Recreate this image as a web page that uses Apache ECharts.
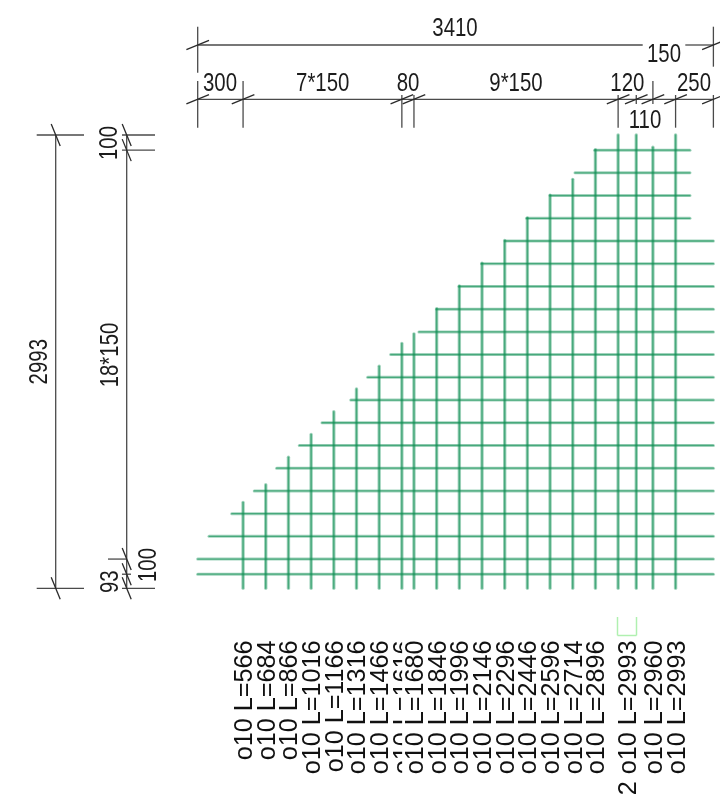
<!DOCTYPE html>
<html><head><meta charset="utf-8">
<style>html,body{margin:0;padding:0;background:#fff}#c{width:720px;height:810px}</style>
<script src="https://cdn.jsdelivr.net/npm/echarts@6/dist/echarts.min.js"></script>
</head><body><div id="c"></div>
<script>
// Dimension chains (mm)
const xChainSpans = [300, 1050, 80, 1350, 120, 110, 150, 250];
const xChainLabels = ['300', '7*150', '80', '9*150', '120', '110', '150', '250'];
const yChainSpans = [93, 100, 2700, 100];
const overallWidth = 3410;
const overallHeight = 2993;

// Vertical bars: x position (mm) and drawn length (mm)
const vBarX = [300,450,600,750,900,1050,1200,1350,1430,1580,1730,1880,2030,2180,2330,2480,2630,2780,2900,3010,3160];
const vBarLen = [566,684,866,1016,1166,1316,1466,1616,1680,1846,1996,2146,2296,2446,2596,2700,2896,2993,2993,2912,2993];

// Horizontal bars: y position (mm), left end and right end (mm)
const hBarY = [93,193,343,493,643,793,943,1093,1243,1393,1543,1693,1843,1993,2143,2293,2443,2593,2743,2893];
const hBarStart = [0,0,75,225,374,522,672,822,1012,1124,1276,1463,1580,1728,1877,2032,2175,2330,2495,2625];
const hBarEnd = [3410,3410,3410,3410,3410,3410,3410,3410,3410,3410,3410,3410,3410,3410,3410,3410,3255,3255,3255,3255];

// Bar schedule labels
const scheduleText = ['o10 L=566','o10 L=684','o10 L=866','o10 L=1016','o10 L=1166','o10 L=1316','o10 L=1466','o10 L=1616','o10 L=1680','o10 L=1846','o10 L=1996','o10 L=2146','o10 L=2296','o10 L=2446','o10 L=2596','o10 L=2714','o10 L=2896','2 o10 L=2993','o10 L=2960','o10 L=2993'];
const scheduleX = [300,450,600,750,900,1050,1200,1350,1430,1580,1730,1880,2030,2180,2330,2480,2630,2840,3010,3160];

// Page-to-model scale
const KX = 0.15123, KY = 0.15146, X0 = 197.7, Y0 = 588.3;
const mx = p => (p - X0) / KX;
const my = p => (Y0 - p) / KY;

const cum = a => { let s = 0; return a.map(v => (s += v)); };
const xStops = [0].concat(cum(xChainSpans));
const yStops = [0].concat(cum(yChainSpans));

const HALO = 'rgba(28,150,96,0.42)';
const CORE = 'rgba(14,142,82,0.6)';
const DIM = '#4a4a4a';
const SANS = '"Liberation Sans",Arial,sans-serif';

const hSeg = hBarY.map((y, i) => [hBarStart[i], y, hBarEnd[i], y]);
const vSeg = vBarX.map((x, i) => [x, 0, x, vBarLen[i]]);

// Dimension lines and extension lines
const yTop = my(45), yChain = my(99.3), xOuter = mx(55.7), xInner = mx(126.7);
const dimSeg = [
  [0, yTop, mx(642.7), yTop], [mx(685.3), yTop, overallWidth, yTop],
  [0, my(26.7), 0, my(72.7)], [overallWidth, my(26.7), overallWidth, my(66.7)],
  [0, yChain, overallWidth, yChain],
  [xOuter, 0, xOuter, overallHeight], [xInner, 0, xInner, overallHeight],
  [mx(36.7), 0, mx(84), 0], [mx(36.7), overallHeight, mx(84), overallHeight],
  [mx(122), overallHeight, mx(155), overallHeight],
  [mx(122), 2893, mx(155), 2893],
  [mx(108), 193, mx(127), 193],
  [mx(122), 93, mx(131), 93],
  [mx(122), 0, mx(155), 0]
];
const extTopPx = [81, 81, 95, 95, 95, 95, 81, 95, 95];
const extBotPx = [127.7, 127.7, 127.7, 127.7, 127.7, 104, 104, 127.7, 127.7];
xStops.forEach((x, i) => dimSeg.push([x, my(extTopPx[i]), x, my(extBotPx[i])]));

// Dimension ticks: [x, y, direction]
const tickPts = [];
[0, overallWidth].forEach(x => tickPts.push([x, yTop, 0]));
xStops.forEach(x => tickPts.push([x, yChain, 0]));
[0, overallHeight].forEach(y => tickPts.push([xOuter, y, 1]));
yStops.forEach(y => tickPts.push([xInner, y, 1]));

// Dimension texts: [x, y, text, rotated]
const dimTexts = [
  [mx(455), my(29), String(overallWidth), 0],
  [mx(664), my(55), xChainLabels[6], 0],
  [mx(220), my(84), xChainLabels[0], 0],
  [mx(322.7), my(84), xChainLabels[1], 0],
  [mx(408), my(84), xChainLabels[2], 0],
  [mx(516), my(84), xChainLabels[3], 0],
  [mx(627.3), my(84), xChainLabels[4], 0],
  [mx(645), my(121), xChainLabels[5], 0],
  [mx(694), my(84), xChainLabels[7], 0],
  [mx(40), my(361.7), String(overallHeight), 1],
  [mx(111.3), my(355), '18*150', 1],
  [mx(110), my(143), '100', 1],
  [mx(148.7), my(565), '100', 1],
  [mx(111), my(581.7), '93', 1]
];

const segRender = style => (params, api) => {
  const a = api.coord([api.value(0), api.value(1)]);
  const b = api.coord([api.value(2), api.value(3)]);
  return { type: 'line', shape: { x1: a[0], y1: a[1], x2: b[0], y2: b[1] }, style };
};

const marker = [[mx(617.5), my(617), mx(617.5), my(635.5)], [mx(617.5), my(635.5), mx(636.5), my(635.5)], [mx(636.5), my(635.5), mx(636.5), my(617)]];

const barSeries = (name, data, width, stroke) => ({
  type: 'custom', name, coordinateSystem: 'cartesian2d', data, silent: true,
  renderItem: segRender({ stroke, lineWidth: width, lineCap: 'round', fill: null })
});

const chart = echarts.init(document.getElementById('c'), null, { renderer: 'canvas' });
chart.setOption({
  animation: false,
  backgroundColor: '#fff',
  grid: { left: 0, right: 0, top: 0, bottom: 0 },
  xAxis: { type: 'value', min: mx(0), max: mx(720), show: false },
  yAxis: { type: 'value', min: my(810), max: my(0), show: false },
  tooltip: { show: false },
  series: [
    barSeries('Horizontal bars', hSeg, 3, HALO),
    barSeries('Vertical bars', vSeg, 3.4, HALO),
    barSeries('Horizontal bars core', hSeg, 1.3, CORE),
    barSeries('Vertical bars core', vSeg, 1.5, CORE),
    { type: 'custom', name: 'Dimension lines', coordinateSystem: 'cartesian2d', data: dimSeg, silent: true,
      renderItem: segRender({ stroke: DIM, lineWidth: 1.3, fill: null }) },
    { type: 'custom', name: 'Dimension ticks', coordinateSystem: 'cartesian2d', data: tickPts, silent: true,
      renderItem: (params, api) => {
        const c = api.coord([api.value(0), api.value(1)]);
        const horiz = api.value(2) === 0;
        const dx = horiz ? 11.3 : 4.5, dy = horiz ? -4.6 : 11;
        return { type: 'line', shape: { x1: c[0] - dx, y1: c[1] - dy, x2: c[0] + dx, y2: c[1] + dy },
          style: { stroke: '#2a2a2a', lineWidth: 1.3, fill: null } };
      } },
    { type: 'custom', name: 'Marker', coordinateSystem: 'cartesian2d', data: marker, silent: true,
      renderItem: segRender({ stroke: '#b0f0b0', lineWidth: 1.5, fill: null }) },
    { type: 'custom', name: 'Dimension text', coordinateSystem: 'cartesian2d', silent: true,
      data: dimTexts, encode: { x: 0, y: 1 },
      renderItem: (params, api) => {
        const c = api.coord([api.value(0), api.value(1)]);
        return { type: 'text', x: c[0], y: c[1], rotation: dimTexts[params.dataIndex][3] ? Math.PI / 2 : 0, scaleX: 0.8,
          style: { text: dimTexts[params.dataIndex][2], align: 'center', verticalAlign: 'middle',
            font: '25.5px ' + SANS, fill: '#1c1c1c' } };
      } },
    { type: 'custom', name: 'Schedule', coordinateSystem: 'cartesian2d', silent: true,
      data: scheduleX.map((x, i) => [x + 11, my(640.5), scheduleText[i]]), encode: { x: 0, y: 1 },
      renderItem: (params, api) => {
        const c = api.coord([api.value(0), api.value(1)]);
        return { type: 'text', x: c[0], y: c[1], rotation: Math.PI / 2, scaleX: 0.95,
          style: { text: scheduleText[params.dataIndex], align: 'right', verticalAlign: 'middle',
            font: '26.5px ' + SANS, fill: '#111', backgroundColor: '#fff' } };
      } }
  ]
});
</script></body></html>
